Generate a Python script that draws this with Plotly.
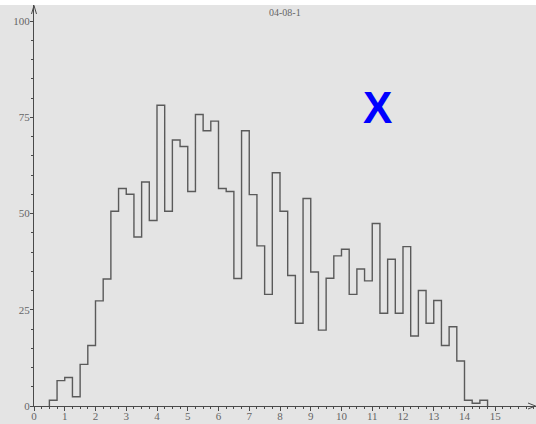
import plotly.graph_objects as go

# ---- data ----
bin_starts = [0.5, 0.75, 1.0, 1.25, 1.5, 1.75, 2.0, 2.25, 2.5, 2.75,
              3.0, 3.25, 3.5, 3.75, 4.0, 4.25, 4.5, 4.75, 5.0, 5.25,
              5.5, 5.75, 6.0, 6.25, 6.5, 6.75, 7.0, 7.25, 7.5, 7.75,
              8.0, 8.25, 8.5, 8.75, 9.0, 9.25, 9.5, 9.75, 10.0, 10.25,
              10.5, 10.75, 11.0, 11.25, 11.5, 11.75, 12.0, 12.25, 12.5, 12.75,
              13.0, 13.25, 13.5, 13.75, 14.0, 14.25, 14.5]
bin_end = 14.75
counts = [1.5, 6.6, 7.4, 2.4, 10.8, 15.7, 27.3, 33.0, 50.6, 56.5,
          55.0, 43.9, 58.2, 48.2, 78.1, 50.6, 69.1, 67.4, 55.7, 75.7,
          71.5, 74.0, 56.5, 55.7, 33.1, 71.5, 54.9, 41.6, 29.0, 60.6,
          50.6, 33.9, 21.5, 53.9, 34.8, 19.7, 33.2, 39.0, 40.7, 29.0,
          35.6, 32.5, 47.4, 24.1, 38.1, 24.1, 41.4, 18.2, 30.0, 21.5,
          27.4, 15.7, 20.6, 11.7, 1.5, 0.7, 1.5]
x_ticks = list(range(0, 16))
y_ticks = [0, 25, 50, 75, 100]
title_text = "04-08-1"
mark_text = "X"

W, H = 536, 424
L, R, T, B = 34, 0, 5, 18
XMAX = (W - L - R) / 30.75
YMAX = (H - T - B) / 3.85

BG = "#e4e4e4"
LINE = "#5a5a5a"
AXIS = "#4a4a4a"
TXT = "#666666"

xs = [bin_starts[0]] + bin_starts + [bin_end]
ys = [0] + counts + [0]

fig = go.Figure()
fig.add_trace(go.Scatter(x=xs, y=ys, mode="lines", line_shape="hv",
                         line=dict(color=LINE, width=1.4), hoverinfo="skip",
                         cliponaxis=False))

fig.update_layout(
    width=W, height=H,
    margin=dict(l=L, r=R, t=T, b=B, pad=0),
    paper_bgcolor=BG, plot_bgcolor=BG,
    showlegend=False,
    font=dict(family="Liberation Serif", size=10, color=TXT),
    xaxis=dict(range=[0, XMAX], tickvals=x_ticks, ticktext=[str(v) for v in x_ticks],
               showgrid=False, zeroline=False, showline=True, linecolor=AXIS, linewidth=1.2,
               ticks="outside", ticklen=4, tickwidth=1.2, tickcolor=AXIS,
               minor=dict(dtick=0.25, tick0=0, ticks="outside", ticklen=2, tickwidth=1, tickcolor=AXIS),
               tickfont=dict(family="Liberation Serif", size=11, color=TXT), fixedrange=True,
               ticklabelstandoff=-4, automargin=False),
    yaxis=dict(range=[0, YMAX], tickvals=y_ticks, ticktext=[str(v) for v in y_ticks],
               showgrid=False, zeroline=False, showline=True, linecolor=AXIS, linewidth=1.2,
               ticks="outside", ticklen=3, tickwidth=1.2, tickcolor=AXIS,
               minor=dict(dtick=5, tick0=0, ticks="outside", ticklen=2, tickwidth=1, tickcolor=AXIS),
               tickfont=dict(family="Liberation Serif", size=11, color=TXT), fixedrange=True,
               ticklabelstandoff=-2, automargin=False),
)

# helpers for pixel -> paper
pw, ph = W - L - R, H - T - B
def px(xp):
    return (xp - L) / pw
def py(yp):
    return (H - B - yp) / ph

# white strip on top
fig.add_shape(type="rect", xref="paper", yref="paper",
              x0=px(0), x1=px(W), y0=py(5), y1=py(0),
              fillcolor="white", line=dict(width=0), layer="above")

# axis arrows (open chevrons)
fig.add_shape(type="path", xref="paper", yref="paper",
              path=f"M {px(31.5)},{py(14)} L {px(34)},{py(5.5)} L {px(36.5)},{py(14)}",
              line=dict(color=AXIS, width=1))
fig.add_shape(type="path", xref="paper", yref="paper",
              path=f"M {px(528)},{py(403)} L {px(535.5)},{py(406)} L {px(528)},{py(409)}",
              line=dict(color=AXIS, width=1))

fig.add_annotation(text=title_text, xref="paper", yref="paper", x=px(285), y=py(13),
                   showarrow=False, xanchor="center", yanchor="middle",
                   font=dict(family="Liberation Serif", size=10, color=TXT))
fig.add_annotation(text=f"<b>{mark_text}</b>", xref="paper", yref="paper", x=px(377), y=py(107),
                   showarrow=False, xanchor="center", yanchor="middle",
                   font=dict(family="Liberation Sans", size=44, color="#0000ff"))

fig.write_html("out.html", config={"displayModeBar": False},
               post_script="document.body.style.margin='0';document.body.style.overflow='hidden';")
